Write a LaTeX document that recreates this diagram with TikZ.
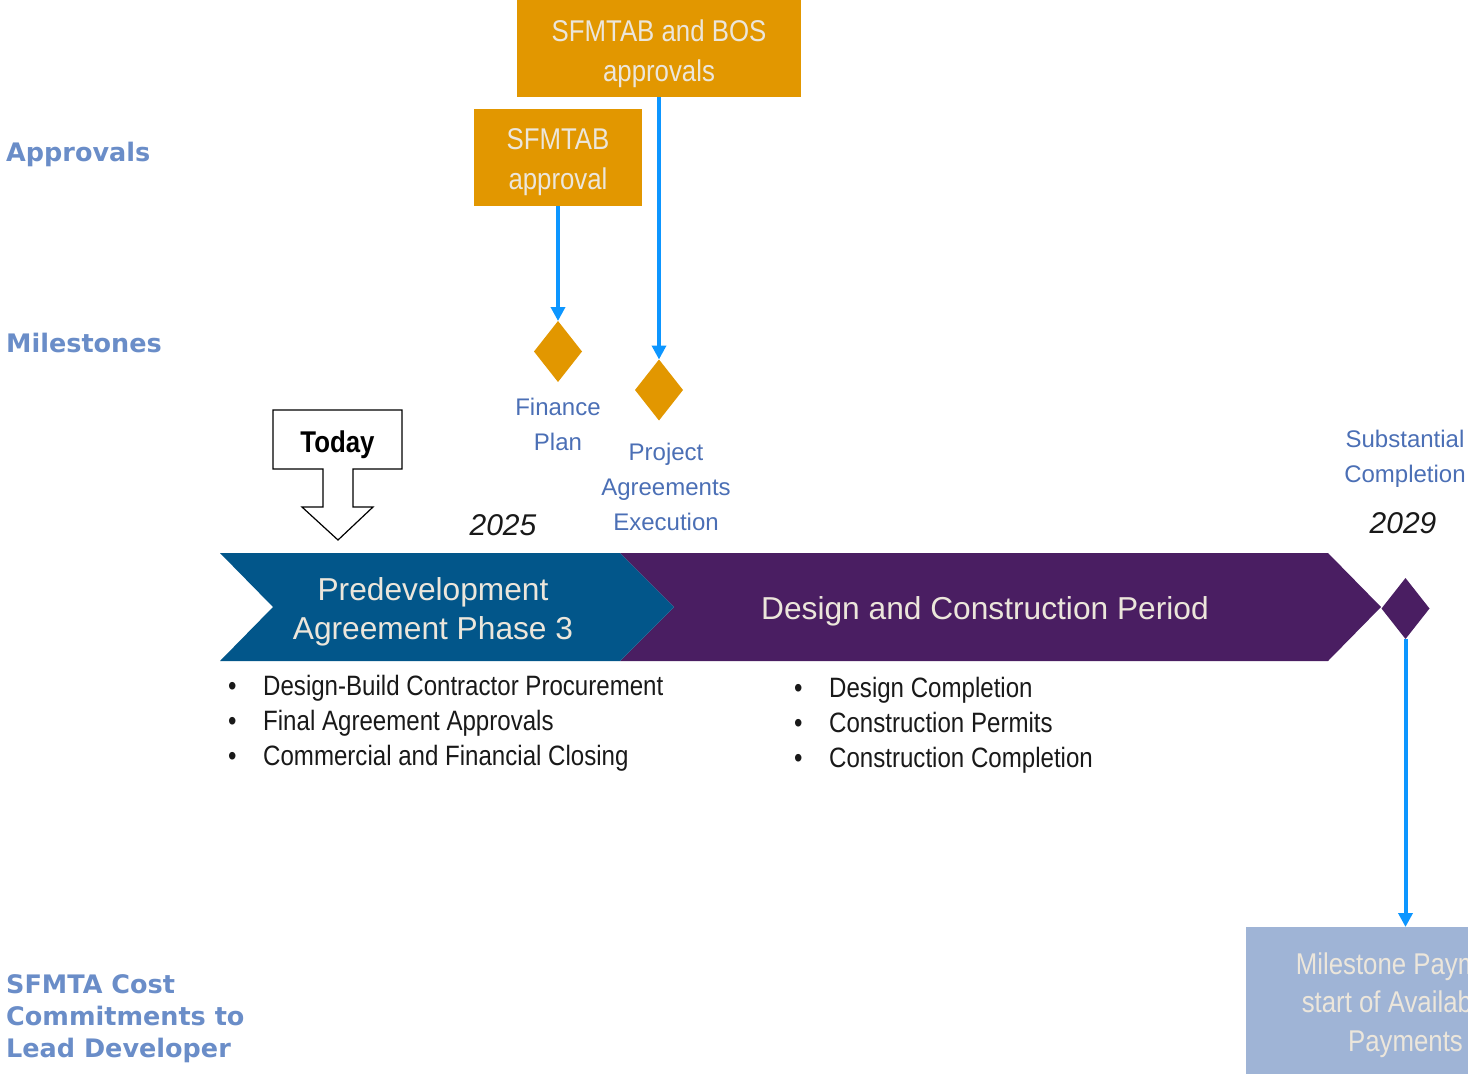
\documentclass[tikz,border=0pt]{standalone}
\usepackage{fontspec}
\setmainfont{Liberation Sans}
\newfontfamily\narrowfont[FakeStretch=0.86]{Liberation Sans}
\newfontfamily\headfont{DejaVu Sans}
\usetikzlibrary{shapes.geometric,arrows.meta}

\definecolor{sforange}{HTML}{E29700}
\definecolor{pdablue}{HTML}{02568A}
\definecolor{dcpurple}{HTML}{4A1E62}
\definecolor{linkblue}{HTML}{0D96FF}
\definecolor{labelblue}{HTML}{4B6FB5}
\definecolor{headblue}{HTML}{6A8DC8}
\definecolor{boxtext}{HTML}{ECE6DB}
\definecolor{paybg}{HTML}{9FB4D6}

\newcommand{\bul}{\makebox[35pt][l]{\textbullet}}

\tikzset{
  approvalbox/.style={fill=sforange, inner sep=0pt, outer sep=0pt},
  boxlabel/.style={text=boxtext, align=center, inner sep=0pt,
    font=\narrowfont\fontsize{30}{40}\selectfont},
  milestone/.style={diamond, fill=#1, inner sep=0pt, outer sep=0pt,
    minimum width=48pt, minimum height=61pt},
  milelabel/.style={text=labelblue, align=center, inner sep=0pt,
    font=\fontsize{24}{35}\selectfont},
  yearlabel/.style={inner sep=0pt, text=black!90, font=\itshape\fontsize{30}{36}\selectfont},
  heading/.style={text=headblue, align=left, inner sep=0pt,
    font=\headfont\bfseries\fontsize{25.5}{32}\selectfont},
  bulletlist/.style={align=left, inner sep=0pt, text=black!90,
    font=\narrowfont\fontsize{28}{35}\selectfont},
  phasetext/.style={text=boxtext, align=center, inner sep=0pt,
    font=\fontsize{31.7}{39}\selectfont},
  link/.style={linkblue, line width=4pt, -{Triangle[length=14pt,width=14pt]}}
}

\begin{document}
\begin{tikzpicture}[x=1pt,y=-1pt]
        % Frame of the slide
        \useasboundingbox (0,0) rectangle (1468,1074);
        \clip (0,0) rectangle (1468,1074);

        % Row headings
        \node[heading, anchor=base west] (apprhead) at (6,161) {Approvals};
        \node[heading, anchor=base west] (milehead) at (6,352) {Milestones};
        \node[heading, anchor=base west] (costhead) at (6,1057) {SFMTA Cost\\Commitments to\\Lead Developer};

        % Approval boxes
        \node[approvalbox, minimum width=284pt, minimum height=97pt] (bosbox) at (659,48.5) {};
        \node[boxlabel, anchor=base] (bostext) at (659,81) {SFMTAB and BOS\\approvals};
        \node[approvalbox, minimum width=168pt, minimum height=97pt] (tabbox) at (558,157.5) {};
        \node[boxlabel, anchor=base] (tabtext) at (558,189) {SFMTAB\\approval};

        % Milestone diamonds
        \node[milestone=sforange] (finance) at (558,351.5) {};
        \node[milestone=sforange] (project) at (659,390) {};
        \node[milestone=dcpurple] (subst) at (1405.5,608.5) {};

        \node[milelabel, anchor=base] (financelbl) at (558,450) {Finance\\Plan};
        \node[milelabel, anchor=base] (projectlbl) at (666,530) {Project\\Agreements\\Execution};
        \node[milelabel, anchor=base] (substlbl) at (1405,482) {Substantial\\Completion};

        % Years
        \node[yearlabel, anchor=base] (year25) at (503,535) {2025};
        \node[yearlabel, anchor=base] (year29) at (1403,533) {2029};

        % Today marker
        \draw[line width=1.2pt, fill=white] (273,410) -- (402,410) -- (402,469) -- (353,469) -- (353,507)
            -- (373,507) -- (338,540) -- (302,507) -- (323,507) -- (323,469) -- (273,469) -- cycle;
        \node[inner sep=0pt, anchor=base, font=\narrowfont\bfseries\fontsize{30}{36}\selectfont] (today) at (337.5,452) {Today};

        % Phase chevrons
        \fill[dcpurple] (620,553) -- (1328,553) -- (1381,607) -- (1328,661) -- (620,661) -- (674,607) -- cycle;
        \fill[pdablue] (220,553) -- (620,553) -- (674,607) -- (620,661) -- (220,661) -- (273,607) -- cycle;
        \node[phasetext, anchor=base] (pdatext) at (433,639) {Predevelopment\\Agreement Phase 3};
        \node[phasetext, anchor=base] (dctext) at (985,619) {Design and Construction Period};

        % Tasks under each phase
        \node[bulletlist, anchor=base west] (pdalist) at (228,765) {\bul Design-Build Contractor Procurement\\\bul Final Agreement Approvals\\\bul Commercial and Financial Closing};
        \node[bulletlist, anchor=base west] (dclist) at (794,767) {\bul Design Completion\\\bul Construction Permits\\\bul Construction Completion};

        % Payment box
        \node[fill=paybg, inner sep=0pt, outer sep=0pt, minimum width=320pt, minimum height=148pt] (paybox) at (1405.5,1001) {};
        \node[boxlabel, anchor=base, font=\narrowfont\fontsize{30}{38.5}\selectfont] (paytext) at (1405.5,1051) {Milestone Payment\\start of Availability\\Payments};

        % Links
        \draw[link] (tabbox.south) -- (finance.north);
        \draw[link] (bosbox.south) -- (project.north);
        \draw[link] (subst.south) -- (paybox.north);
\end{tikzpicture}
\end{document}
